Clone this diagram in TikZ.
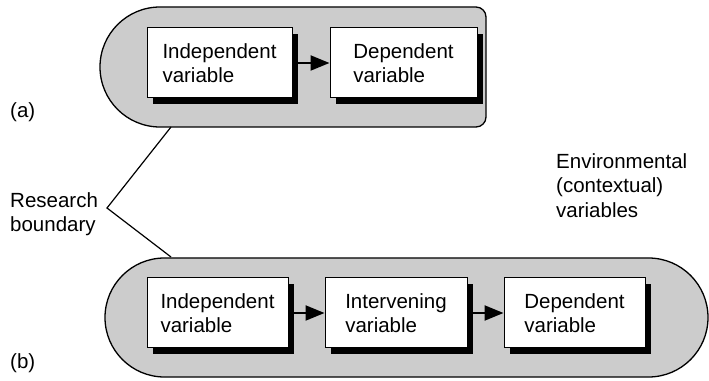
\documentclass[tikz,border=0pt]{standalone}
\usepackage{fontspec}
\setmainfont{Liberation Sans}
\usetikzlibrary{arrows.meta,shadows}
\definecolor{capsulegray}{HTML}{CCCCCC}
\begin{document}
\begin{tikzpicture}[x=1pt,y=1pt,
  font=\fontsize{20.5}{24.5}\selectfont,
  capsule/.style={draw=black,line width=1.3pt,fill=capsulegray},
  varbox/.style={draw=black,line width=1pt,fill=white,minimum height=70pt,align=left,inner sep=0pt,
    drop shadow={shadow xshift=6pt,shadow yshift=-6pt,fill=black,opacity=1}},
  flow/.style={line width=2.2pt,-{Triangle[length=19pt,width=15pt]}},
  boundary/.style={line width=1.2pt},
  lbl/.style={inner sep=0pt,align=left}]
\useasboundingbox (0,0) rectangle (709,380);
% capsules
\path[capsule] (160,373) arc[start angle=90,end angle=270,radius=60] -- (476,253)
  arc[start angle=-90,end angle=0,radius=10] -- (486,363)
  arc[start angle=0,end angle=90,radius=10] -- cycle;
\path[capsule] (164.5,122) arc[start angle=90,end angle=270,radius=59.5] -- (648.5,3)
  arc[start angle=-90,end angle=90,radius=59.5] -- cycle;
% (a) boxes
\node[varbox,minimum width=145pt] (aind) at (219.5,317) {Independent\\variable};
\node[varbox,minimum width=147pt] (adep) at (403.5,317) {Dependent\\variable};
\draw[flow] (aind.east) -- (adep.west);
% (b) boxes
\node[varbox,minimum width=141pt] (bind) at (217.5,67) {Independent\\variable};
\node[varbox,minimum width=142pt] (bint) at (396,67) {Intervening\\variable};
\node[varbox,minimum width=141pt] (bdep) at (574.5,67) {Dependent\\variable};
\draw[flow] (bind.east) -- (bint.west);
\draw[flow] (bint.east) -- (bdep.west);
% labels
\node[lbl,anchor=base west] (la) at (10,262) {(a)};
\node[lbl,anchor=base west] (lb) at (10,12) {(b)};
\node[lbl,anchor=west] (rb) at (10,166) {Research\\boundary};
\node[lbl,anchor=west] (env) at (556,194.5) {Environmental\\(contextual)\\variables};
% research boundary
\coordinate (rbtop) at (171,253);
\coordinate (rbtip) at (107,172);
\coordinate (rbbot) at (171,123);
\draw[boundary] (rbtop) -- (rbtip) -- (rbbot);
\end{tikzpicture}
\end{document}
